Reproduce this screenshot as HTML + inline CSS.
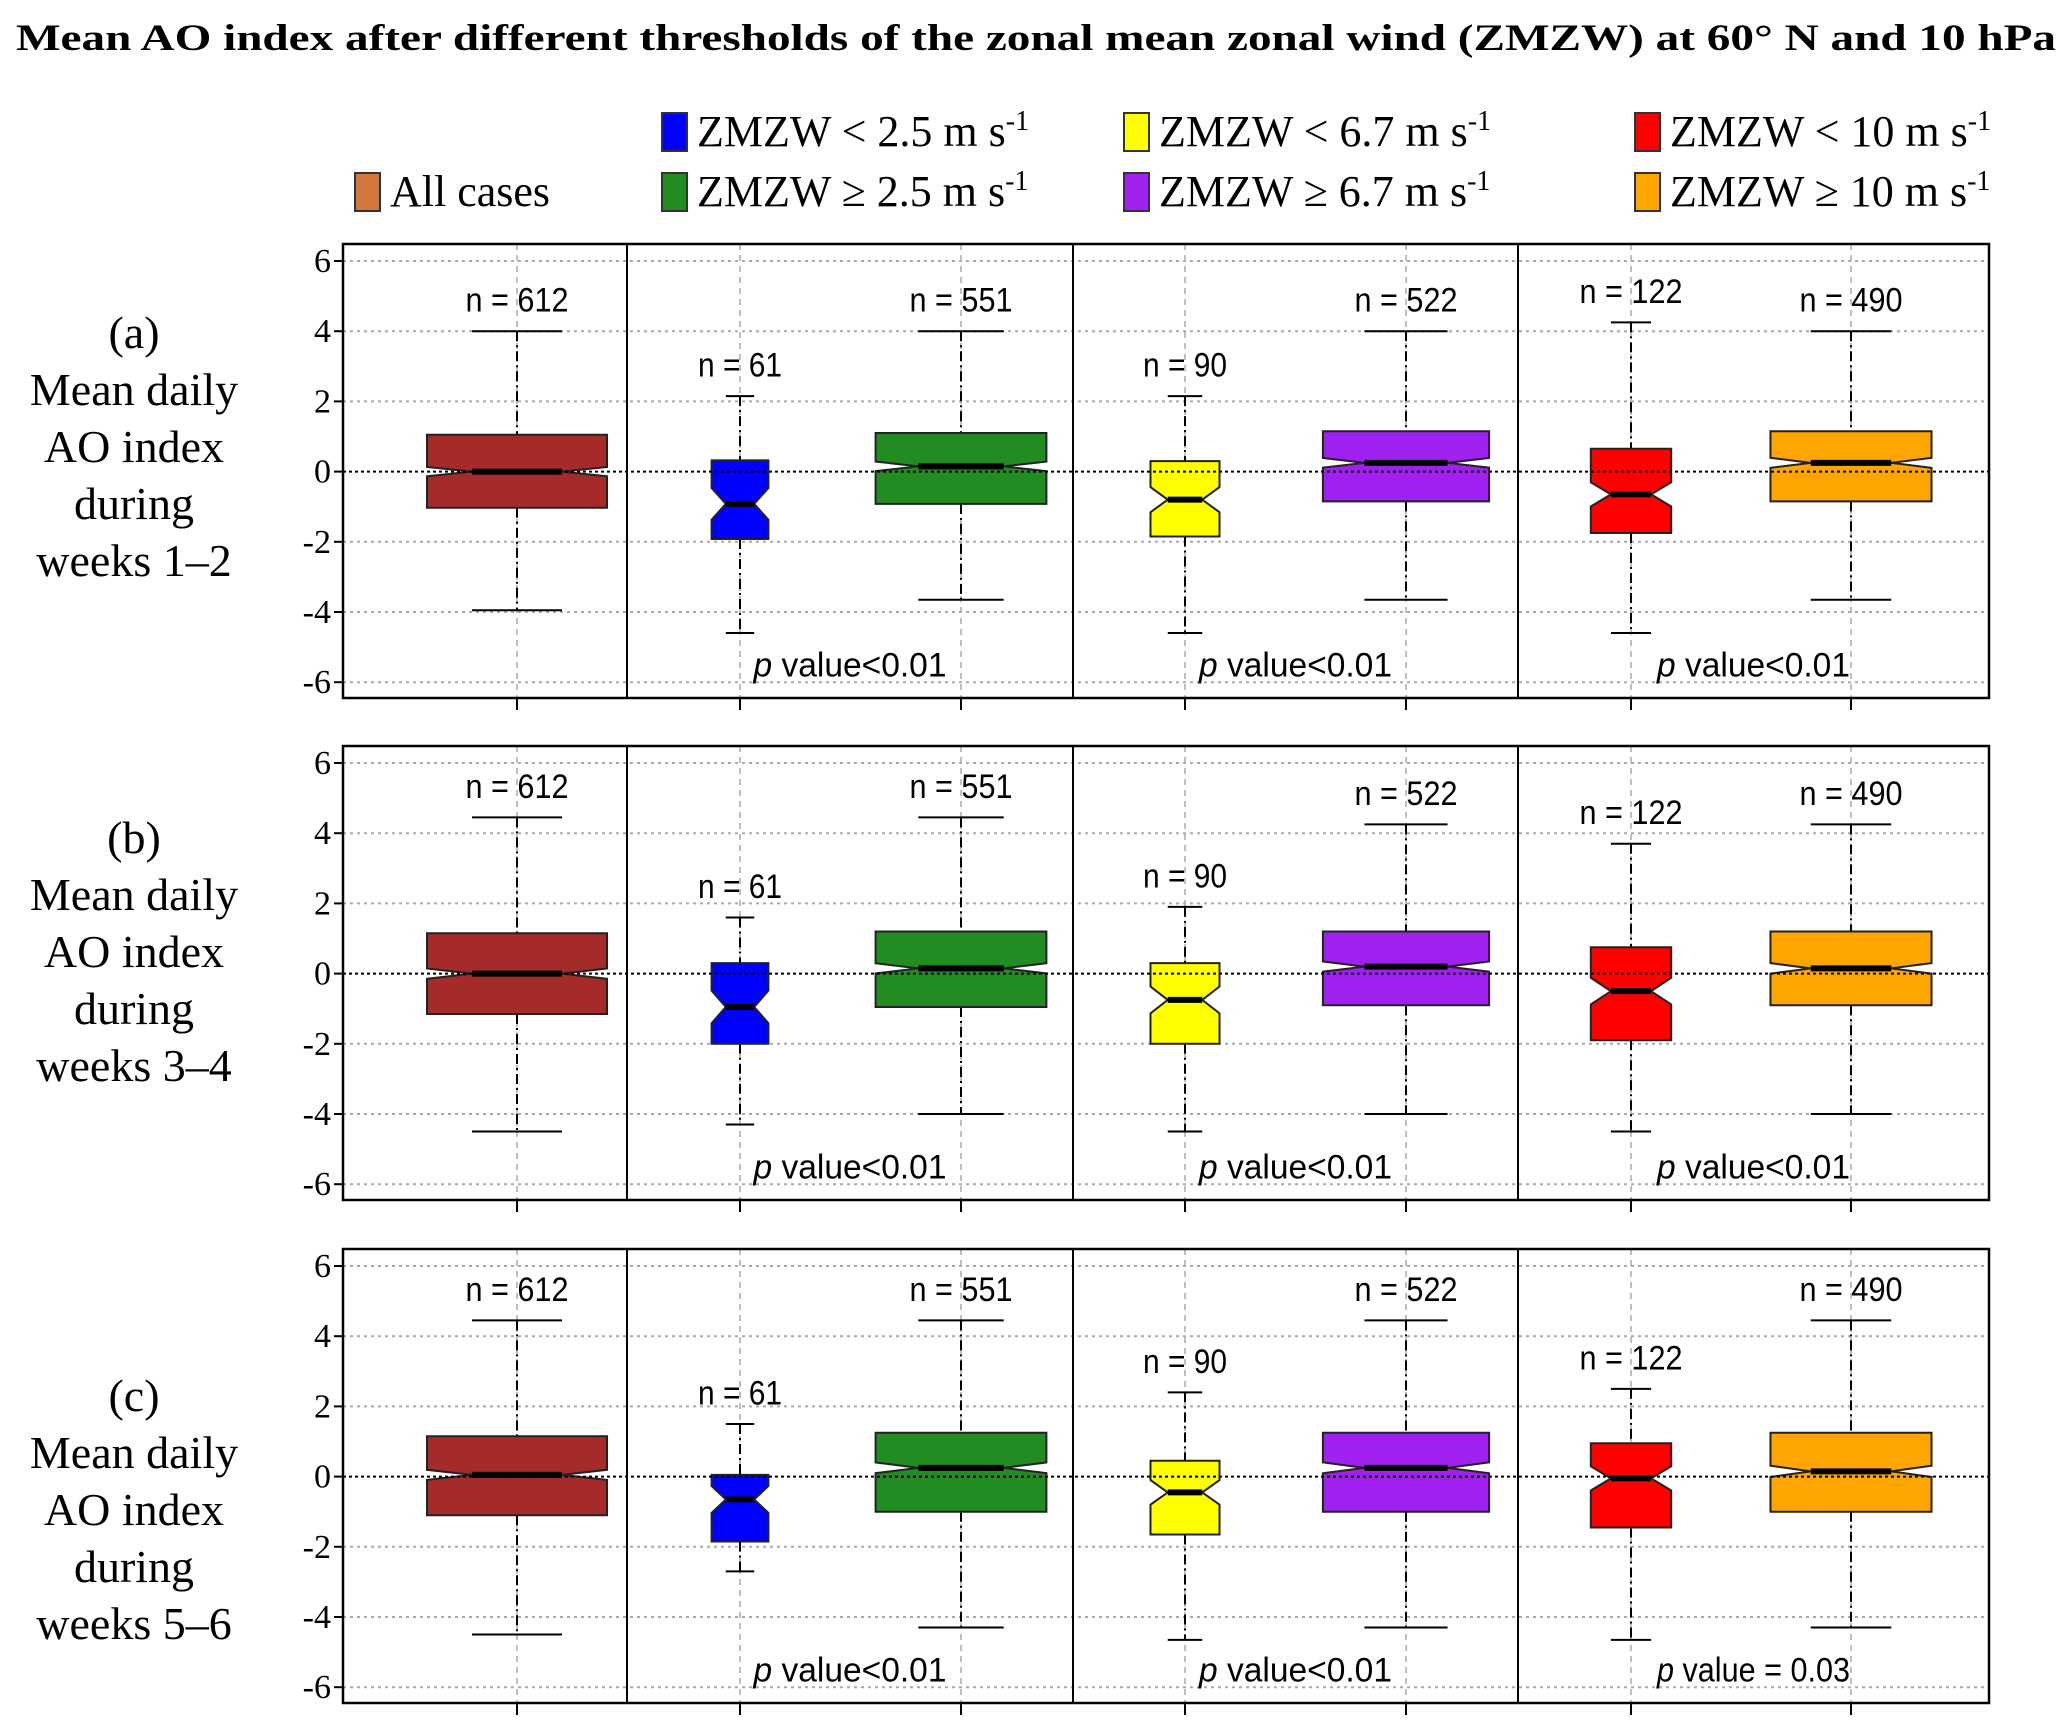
<!DOCTYPE html>
<html><head><meta charset="utf-8"><style>
html,body{margin:0;padding:0;background:#fff;}
svg{display:block;}
.serif{font-family:"Liberation Serif",serif;}
.sans{font-family:"Liberation Sans",sans-serif;}
</style></head><body>
<svg id="chart" width="2067" height="1733" viewBox="0 0 2067 1733" xmlns="http://www.w3.org/2000/svg">
<text class="serif" x="1036" y="50" text-anchor="middle" font-weight="bold" font-size="37" textLength="2040" lengthAdjust="spacingAndGlyphs">Mean AO index after different thresholds of the zonal mean zonal wind (ZMZW) at 60° N and 10 hPa</text>
<g id="legend" class="serif" font-size="44"></g>
<g id="panels"></g>
</svg>
<script>
// ---- data ----
const categories = ["All cases","ZMZW < 2.5","ZMZW ≥ 2.5","ZMZW < 6.7","ZMZW ≥ 6.7","ZMZW < 10","ZMZW ≥ 10"];
const sampleSizes = [612, 61, 551, 90, 522, 122, 490];
const panelLabels = ["(a)","(b)","(c)"];
const panelWeeks = ["weeks 1–2","weeks 3–4","weeks 5–6"];
// [lowerWhisker, q1, median, q3, upperWhisker] per box
const panelA = [[-3.95,-1.03,0.0,1.05,4.0],[-4.6,-1.92,-0.92,0.32,2.15],[-3.65,-0.92,0.15,1.1,4.0],[-4.6,-1.85,-0.8,0.3,2.15],[-3.65,-0.85,0.25,1.15,4.0],[-4.6,-1.75,-0.65,0.65,4.25],[-3.65,-0.85,0.25,1.15,4.0]];
const panelB = [[-4.5,-1.15,0.0,1.15,4.45],[-4.3,-2.0,-0.95,0.3,1.6],[-4.0,-0.95,0.15,1.2,4.45],[-4.5,-2.0,-0.75,0.3,1.9],[-4.0,-0.9,0.2,1.2,4.25],[-4.5,-1.9,-0.5,0.75,3.7],[-4.0,-0.9,0.15,1.2,4.25]];
const panelC = [[-4.5,-1.1,0.05,1.15,4.45],[-2.7,-1.85,-0.65,0.05,1.5],[-4.3,-1.0,0.25,1.25,4.45],[-4.65,-1.65,-0.45,0.45,2.4],[-4.3,-1.0,0.25,1.25,4.45],[-4.65,-1.45,-0.05,0.95,2.5],[-4.3,-1.0,0.15,1.25,4.45]];
const pValues = [["p value<0.01","p value<0.01","p value<0.01"],["p value<0.01","p value<0.01","p value<0.01"],["p value<0.01","p value<0.01","p value = 0.03"]];
const yTicks = [6,4,2,0,-2,-4,-6];
const yTickLabels = ["6","4","2","0","-2","-4","-6"];

// ---- styles/layout ----
const colors = ["#a52a2a","#0000ff","#228b22","#ffff00","#a020f0","#ff0000","#ffa500"];
const NS="http://www.w3.org/2000/svg";
const L=343, R=1989, dividers=[627,1073,1518];
const centers=[517,740,961,1185,1406,1631,1851];
const panelTops=[244,746,1249], PH=454;
const labelTops=[333,838,1396];
const ppu=35.1;
function mk(tag,attrs,parent){const e=document.createElementNS(NS,tag);for(const k in attrs)e.setAttribute(k,attrs[k]);parent.appendChild(e);return e;}

// legend
const lg=document.getElementById('legend');
const legendItems=[
 {x:355,y:192,c:"#d2773f",t:"All cases",sup:false},
 {x:662,y:132,c:colors[1],t:"ZMZW < 2.5 m s",sup:true},
 {x:662,y:192,c:colors[2],t:"ZMZW ≥ 2.5 m s",sup:true},
 {x:1124,y:132,c:colors[3],t:"ZMZW < 6.7 m s",sup:true},
 {x:1124,y:192,c:colors[4],t:"ZMZW ≥ 6.7 m s",sup:true},
 {x:1635,y:132,c:colors[5],t:"ZMZW < 10 m s",sup:true},
 {x:1635,y:192,c:colors[6],t:"ZMZW ≥ 10 m s",sup:true}];
legendItems.forEach(it=>{
 const g=mk('g',{},lg);
 
 
 mk('rect',{x:it.x,y:it.y-19,width:25,height:38,fill:it.c,stroke:"#333","stroke-width":2},g);
 const t=mk('text',{x:it.x+35,y:it.y+14},g);
 t.textContent=it.t;
 if(it.sup){const s=mk('tspan',{"font-size":"28",dy:"-16"},t);s.textContent="-1";}
});

const panels=document.getElementById('panels');
const allData=[panelA,panelB,panelC];
allData.forEach((data,pi)=>{
 const top=panelTops[pi], bot=top+PH;
 const y=v=>top+17+(6-v)*ppu;
 const g=mk('g',{},panels);
 
 
 const lines=[panelLabels[pi],"Mean daily","AO index","during",panelWeeks[pi]];
 lines.forEach((s,i)=>{const t=mk('text',{x:134,y:labelTops[pi]+15+i*57,"text-anchor":"middle","font-size":"46",class:"serif"},g);
  
  
  t.textContent=s;});
 yTicks.forEach((v,i)=>{
  if(v!==0) mk('line',{x1:L,x2:R,y1:y(v),y2:y(v),stroke:"#aaa","stroke-width":2,"stroke-dasharray":"3,4"},g);
  mk('line',{x1:L-9,x2:L,y1:y(v),y2:y(v),stroke:"#000","stroke-width":2},g);
  const t=mk('text',{x:L-12,y:y(v)+11,"text-anchor":"end","font-size":"34",class:"serif"},g);
  
  
  t.textContent=yTickLabels[i];
 });
 centers.forEach(cx=>{
  mk('line',{x1:cx,x2:cx,y1:top,y2:bot,stroke:"#aaa","stroke-width":1.5,"stroke-dasharray":"6,5"},g);
  mk('line',{x1:cx,x2:cx,y1:bot,y2:bot+12,stroke:"#000","stroke-width":2},g);
 });
 data.forEach((d,bi)=>{
  const [lo,q1,md,q3,hi]=d, cx=centers[bi];
  const w=180*Math.sqrt(sampleSizes[bi]/612);
  const nh=1.58*(q3-q1)/Math.sqrt(sampleSizes[bi]);
  const bg=mk('g',{},g);
  
  
  mk('line',{x1:cx,x2:cx,y1:y(hi),y2:y(q3),stroke:"#000","stroke-width":2,"stroke-dasharray":"10,4,2,4"},bg);
  mk('line',{x1:cx,x2:cx,y1:y(q1),y2:y(lo),stroke:"#000","stroke-width":2,"stroke-dasharray":"10,4,2,4"},bg);
  mk('line',{x1:cx-w/4,x2:cx+w/4,y1:y(hi),y2:y(hi),stroke:"#000","stroke-width":2},bg);
  mk('line',{x1:cx-w/4,x2:cx+w/4,y1:y(lo),y2:y(lo),stroke:"#000","stroke-width":2},bg);
  const a=cx-w/2,b=cx+w/2,ia=cx-w/4,ib=cx+w/4;
  const pts=[[a,y(q3)],[b,y(q3)],[b,y(md+nh)],[ib,y(md)],[b,y(md-nh)],[b,y(q1)],[a,y(q1)],[a,y(md-nh)],[ia,y(md)],[a,y(md+nh)]];
  mk('polygon',{points:pts.map(p=>p.join(',')).join(' '),fill:colors[bi],stroke:"#222","stroke-width":2},bg);
  mk('line',{x1:ia,x2:ib,y1:y(md),y2:y(md),stroke:"#000","stroke-width":6},bg);
  const t=mk('text',{x:cx,y:y(hi+0.9)+12,"text-anchor":"middle","font-size":"34",class:"sans",textLength:sampleSizes[bi]>=100?"103":"84",lengthAdjust:"spacingAndGlyphs"},bg);
  
  
  t.textContent="n = "+sampleSizes[bi];
 });
 mk('line',{x1:L,x2:R,y1:y(0),y2:y(0),stroke:"#000","stroke-width":2,"stroke-dasharray":"3,3"},g);
 mk('rect',{x:L,y:top,width:R-L,height:PH,fill:"none",stroke:"#000","stroke-width":2.5},g);
 dividers.forEach(dx=>mk('line',{x1:dx,x2:dx,y1:top,y2:bot,stroke:"#000","stroke-width":2},g));
 const bounds=[[dividers[0],dividers[1]],[dividers[1],dividers[2]],[dividers[2],R]];
 bounds.forEach((bd,i)=>{
  const s=pValues[pi][i];
  const t=mk('text',{x:(bd[0]+bd[1])/2,y:y(-5.5)+12,"text-anchor":"middle","font-size":"34",class:"sans",textLength:"193",lengthAdjust:"spacingAndGlyphs"},g);
  
  
  const p=mk('tspan',{"font-style":"italic"},t);p.textContent="p";
  const r=mk('tspan',{},t);r.textContent=" "+s.slice(2);
 });
});
</script>
</body></html>
